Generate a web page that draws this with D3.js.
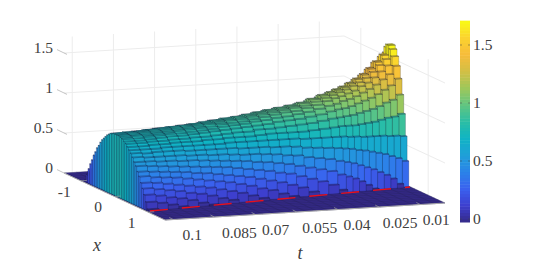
<!DOCTYPE html>
<html>
<head>
<meta charset="utf-8">
<script src="https://cdn.jsdelivr.net/npm/d3@7"></script>
<style>
body { margin: 0; background: #fff; }
text { font-family: "Liberation Serif", serif; font-size: 15.5px; fill: #404040; }
</style>
</head>
<body>
<script>
// cell centres along t, far end of the plot first. Cells get narrower towards the tip
var tValues = [0.0025, 0.0049, 0.0073, 0.0097, 0.0121, 0.0145, 0.0169, 0.0193, 0.0217, 0.0241,
	0.0265, 0.0304, 0.0343, 0.0382, 0.0421, 0.046, 0.0498, 0.0537, 0.0576, 0.0615, 0.0654, 0.0693,
	0.0731, 0.077, 0.0809, 0.0848, 0.0887, 0.0926, 0.0964, 0.1003];

// cell centres along |x|, the surface looks symmetric about x=0
var xValues = [0.025, 0.075, 0.125, 0.175, 0.225, 0.275, 0.325, 0.375, 0.425, 0.475, 0.525, 0.575, 0.625, 0.675,
	0.725, 0.775, 0.825, 0.875, 0.925, 0.975];

// one row per t, one value per |x|, missing values are zero
var heights = [
	[1.69, 1.65, 1.57, 1.46, 1.31, 1.12, 0.89, 0.62, 0.32],
	[1.57, 1.53, 1.46, 1.36, 1.23, 1.06, 0.86, 0.63, 0.36, 0.05],
	[1.49, 1.46, 1.39, 1.30, 1.18, 1.03, 0.85, 0.63, 0.39, 0.12],
	[1.41, 1.38, 1.32, 1.24, 1.13, 0.99, 0.83, 0.64, 0.42, 0.17],
	[1.34, 1.31, 1.26, 1.19, 1.09, 0.96, 0.81, 0.64, 0.44, 0.21],
	[1.29, 1.26, 1.22, 1.15, 1.06, 0.94, 0.80, 0.64, 0.46, 0.25, 0.02],
	[1.24, 1.22, 1.17, 1.11, 1.03, 0.92, 0.79, 0.64, 0.48, 0.28, 0.07],
	[1.20, 1.18, 1.14, 1.08, 1.00, 0.90, 0.78, 0.65, 0.49, 0.31, 0.12],
	[1.17, 1.15, 1.11, 1.06, 0.98, 0.89, 0.78, 0.65, 0.51, 0.34, 0.16],
	[1.14, 1.12, 1.09, 1.03, 0.97, 0.88, 0.78, 0.66, 0.52, 0.36, 0.19],
	[1.11, 1.09, 1.06, 1.01, 0.95, 0.87, 0.77, 0.66, 0.53, 0.38, 0.22, 0.04],
	[1.07, 1.05, 1.02, 0.98, 0.92, 0.85, 0.76, 0.66, 0.54, 0.41, 0.27, 0.11],
	[1.03, 1.01, 0.99, 0.95, 0.90, 0.83, 0.75, 0.66, 0.55, 0.43, 0.30, 0.16],
	[1.00, 0.99, 0.96, 0.93, 0.88, 0.82, 0.74, 0.66, 0.56, 0.45, 0.33, 0.20, 0.05],
	[0.98, 0.97, 0.95, 0.91, 0.87, 0.81, 0.74, 0.67, 0.58, 0.48, 0.36, 0.24, 0.11],
	[0.96, 0.95, 0.93, 0.90, 0.86, 0.80, 0.74, 0.67, 0.59, 0.49, 0.39, 0.28, 0.15, 0.02],
	[0.94, 0.93, 0.91, 0.88, 0.84, 0.79, 0.74, 0.67, 0.59, 0.51, 0.41, 0.30, 0.19, 0.06],
	[0.92, 0.91, 0.89, 0.87, 0.83, 0.79, 0.73, 0.67, 0.60, 0.52, 0.43, 0.33, 0.22, 0.11],
	[0.90, 0.89, 0.87, 0.85, 0.82, 0.77, 0.72, 0.67, 0.60, 0.53, 0.44, 0.35, 0.25, 0.14, 0.03],
	[0.88, 0.88, 0.86, 0.84, 0.81, 0.77, 0.72, 0.67, 0.60, 0.53, 0.46, 0.37, 0.28, 0.18, 0.07],
	[0.87, 0.86, 0.85, 0.83, 0.80, 0.76, 0.72, 0.67, 0.61, 0.54, 0.47, 0.39, 0.30, 0.21, 0.11],
	[0.85, 0.85, 0.83, 0.81, 0.79, 0.75, 0.71, 0.66, 0.61, 0.55, 0.48, 0.41, 0.32, 0.24, 0.14, 0.04],
	[0.84, 0.83, 0.82, 0.80, 0.78, 0.74, 0.71, 0.66, 0.61, 0.55, 0.49, 0.42, 0.34, 0.26, 0.17, 0.07],
	[0.83, 0.82, 0.81, 0.79, 0.77, 0.74, 0.70, 0.66, 0.61, 0.56, 0.50, 0.43, 0.36, 0.28, 0.20, 0.11, 0.01],
	[0.82, 0.81, 0.80, 0.78, 0.76, 0.73, 0.70, 0.66, 0.61, 0.56, 0.51, 0.44, 0.37, 0.30, 0.22, 0.14, 0.04],
	[0.81, 0.80, 0.79, 0.78, 0.76, 0.73, 0.70, 0.66, 0.62, 0.57, 0.51, 0.45, 0.39, 0.32, 0.24, 0.16, 0.08],
	[0.80, 0.79, 0.78, 0.77, 0.75, 0.72, 0.69, 0.66, 0.62, 0.57, 0.52, 0.46, 0.40, 0.34, 0.26, 0.19, 0.11, 0.02],
	[0.79, 0.78, 0.77, 0.76, 0.74, 0.72, 0.69, 0.65, 0.62, 0.57, 0.52, 0.47, 0.41, 0.35, 0.28, 0.21, 0.13, 0.05],
	[0.78, 0.77, 0.77, 0.75, 0.73, 0.71, 0.68, 0.65, 0.61, 0.57, 0.53, 0.48, 0.42, 0.36, 0.30, 0.23, 0.16, 0.08],
	[0.77, 0.77, 0.76, 0.75, 0.73, 0.71, 0.68, 0.65, 0.62, 0.58, 0.53, 0.49, 0.43, 0.38, 0.31, 0.25, 0.18, 0.10, 0.02]
];

// the red line on the floor, end to end
var redT = [0.1016, 0.0012];
var redX = [0.94, 0.477];

var tTicks = [0.1, 0.085, 0.07, 0.055, 0.04, 0.025, 0.01];
var tTickLabels = ['0.1', '0.085', '0.07', '0.055', '0.04', '0.025', '0.01'];
var xTicks = [-1, 0, 1];
var zTicks = [0, 0.5, 1, 1.5];
var zTickLabels = ['0', '0.5', '1', '1.5'];
var barTicks = [0, 0.5, 1, 1.5];
var parula = ['#352a87', '#3d3fcf', '#3a62ef', '#2b83e8', '#1f9fd8', '#0fb4c4', '#2cbea4', '#62c581', '#9fc75a', '#d3bf45', '#f7bc3a', '#fbd32f', '#f9fb15'];

var xMin = -1.5, xMax = 1.5, tNear = 0.103, tFar = 0.001, zMax = 1.7;

var xToPx = d3.scaleLinear().domain([xMin, xMax]).range([-50.5, 50.5]);
var xToPy = d3.scaleLinear().domain([xMin, xMax]).range([-23.5, 23.5]);
var tToPx = d3.scaleLinear().domain([tNear, tFar]).range([0, 280]);
var tToPy = d3.scaleLinear().domain([tNear, tFar]).range([0, -17]);
var zToPy = d3.scaleLinear().domain([0, zMax]).range([0, -136]);

var color = d3.scaleLinear()
	.domain(d3.range(parula.length).map(function(i){return i / (parula.length - 1) * zMax}))
	.range(parula)
	.clamp(true);

var project = function(x, t, z){
	return [114.5 + xToPx(x) + tToPx(t), 196.5 + xToPy(x) + tToPy(t) + zToPy(z)];
}

var svg = d3.select('body').append('svg')
	.attr('width', 555)
	.attr('height', 264);

var poly = d3.line();

var drawLine = function(group, a, b, stroke, width){
	group.append('line')
		.attr('x1', a[0]).attr('y1', a[1])
		.attr('x2', b[0]).attr('y2', b[1])
		.attr('stroke', stroke)
		.attr('stroke-width', width);
}

var drawWalls = function(){
	var g = svg.append('g');
	var grid = '#ececec';
	zTicks.forEach(function(z){
		drawLine(g, project(xMin, tNear, z), project(xMin, tFar, z), grid, 1);
		drawLine(g, project(xMin, tFar, z), project(xMax, tFar, z), grid, 1);
	});
	tTicks.forEach(function(t){
		drawLine(g, project(xMin, t, 0), project(xMin, t, zMax), grid, 1);
	});
	xTicks.forEach(function(x){
		drawLine(g, project(x, tFar, 0), project(x, tFar, zMax), grid, 1);
	});
}

var drawFloor = function(){
	var g = svg.append('g');
	g.append('path')
		.attr('d', poly([project(xMin, tNear, 0), project(xMax, tNear, 0), project(xMax, tFar, 0), project(xMin, tFar, 0)]) + 'Z')
		.attr('fill', color(0));
	var line = '#25205f';
	d3.range(xMin, xMax + 0.01, 0.1).forEach(function(x){
		drawLine(g, project(x, tNear, 0), project(x, tFar, 0), line, 0.4);
	});
	d3.range(tFar, tNear + 0.0001, 0.0039).forEach(function(t){
		drawLine(g, project(xMin, t, 0), project(xMax, t, 0), line, 0.4);
	});
}

var drawSurface = function(){
	var halfX = (xValues[1] - xValues[0]) / 2;
	var signedX = xValues.slice().reverse().map(function(x){return -x}).concat(xValues);

	// cell edges are the midpoints between neighbouring t values
	var edge = function(i){
		if (i === 0) return tValues[0] - (tValues[1] - tValues[0]) / 2;
		if (i === tValues.length) return tValues[i - 1] + (tValues[i - 1] - tValues[i - 2]) / 2;
		return (tValues[i - 1] + tValues[i]) / 2;
	}

	var faces = [];
	tValues.forEach(function(t, i){
		var t0 = edge(i), t1 = edge(i + 1);
		signedX.forEach(function(x){
			var k = xValues.indexOf(Math.abs(x));
			var u = heights[i][k];
			if (!u) return;
			var x0 = x - halfX, x1 = x + halfX;
			faces.push({u: u, a: 0.5, pts: [project(x0, t1, 0), project(x1, t1, 0), project(x1, t1, u), project(x0, t1, u)]});
			faces.push({u: u, a: 0.4, pts: [project(x1, t1, 0), project(x1, t0, 0), project(x1, t0, u), project(x1, t1, u)]});
			faces.push({u: u, a: 0.6, pts: [project(x0, t0, u), project(x1, t0, u), project(x1, t1, u), project(x0, t1, u)]});
		});
	});

	svg.append('g').selectAll('path')
		.data(faces)
		.enter()
		.append('path')
		.attr('d', function(d){return poly(d.pts) + 'Z'})
		.attr('fill', function(d){return color(d.u)})
		.attr('stroke', function(d){return 'rgba(20,20,50,' + d.a + ')'})
		.attr('stroke-width', 0.5);
}

var drawRedLine = function(){
	var a = project(redX[0], redT[0], 0);
	var b = project(redX[1], redT[1], 0);
	svg.append('line')
		.attr('x1', a[0]).attr('y1', a[1])
		.attr('x2', b[0]).attr('y2', b[1])
		.attr('stroke', '#e8101c')
		.attr('stroke-width', 1.4)
		.attr('stroke-dasharray', '18,14');
}

var drawAxes = function(){
	var g = svg.append('g');
	var edge = '#a8a8a8';
	drawLine(g, project(xMin, tNear, 0), project(xMax, tNear, 0), edge, 1);
	drawLine(g, project(xMax, tNear, 0), project(xMax, tFar, 0), edge, 1);

	zTicks.forEach(function(z, i){
		var p = project(xMin, tNear, z);
		drawLine(g, [p[0] - 7, p[1] - 3.4], [p[0] + 3, p[1] + 1.4], '#b5b5b5', 0.8);
		g.append('text')
			.attr('x', 53)
			.attr('y', p[1] - 5)
			.attr('dy', '0.35em')
			.attr('text-anchor', 'end')
			.text(zTickLabels[i]);
	});

	xTicks.forEach(function(x){
		var p = project(x, tNear, 0);
		drawLine(g, p, [p[0] + 6, p[1] - 0.4], '#a0a0a0', 0.7);
		g.append('text')
			.attr('x', p[0] - 16.5)
			.attr('y', p[1] + 10.5)
			.attr('dy', '0.35em')
			.attr('text-anchor', 'middle')
			.text(x);
	});

	var nudge = [-1, 5, 0, 3, -1, 1, -4];
	tTicks.forEach(function(t, i){
		var p = project(xMax, t, 0);
		drawLine(g, p, [p[0] - 4, p[1] - 2], '#a0a0a0', 0.7);
		g.append('text')
			.attr('x', p[0] + 20 + nudge[i])
			.attr('y', p[1] + 15.5)
			.attr('dy', '0.35em')
			.attr('text-anchor', 'middle')
			.text(tTickLabels[i]);
	});

	g.append('text').attr('x', 97).attr('y', 245).attr('dy', '0.35em')
		.attr('text-anchor', 'middle').style('font-style', 'italic').style('font-size', '18px').text('x');
	g.append('text').attr('x', 300).attr('y', 253).attr('dy', '0.35em')
		.attr('text-anchor', 'middle').style('font-style', 'italic').style('font-size', '18px').text('t');
}

var drawColorbar = function(){
	var barY = d3.scaleLinear().domain([0, 1]).range([219, 103]);
	var g = svg.append('g');
	var steps = d3.range(0, 64);
	var top = barY(1.71), bottom = 222;
	var h = (bottom - top) / steps.length;
	g.selectAll('rect')
		.data(steps)
		.enter()
		.append('rect')
		.attr('x', 460)
		.attr('width', 10)
		.attr('y', function(d){return bottom - (d + 1) * h})
		.attr('height', h + 0.5)
		.attr('fill', function(d){return color((d + 0.5) / steps.length * zMax)});
	barTicks.forEach(function(v){
		drawLine(g, [460, barY(v)], [462, barY(v)], '#444', 0.5);
		drawLine(g, [468, barY(v)], [470, barY(v)], '#444', 0.5);
		g.append('text')
			.attr('x', 473)
			.attr('y', barY(v))
			.attr('dy', '0.35em')
			.text(v);
	});
}

drawWalls();
drawFloor();
drawSurface();
drawRedLine();
drawAxes();
drawColorbar();
</script>
</body>
</html>
